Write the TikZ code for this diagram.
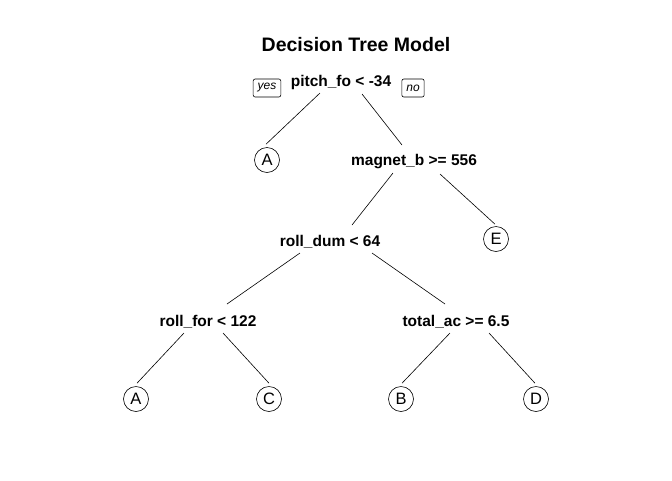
\documentclass[tikz,border=0pt]{standalone}
\usepackage{fontspec}
\setmainfont{Liberation Sans}
\usetikzlibrary{calc}
\begin{document}
\begin{tikzpicture}[x=1pt,y=-1pt,
  split/.style={font=\fontsize{15.5}{17}\selectfont\bfseries, inner sep=1pt},
  leaf/.style={draw, circle, minimum size=25pt, inner sep=0pt, line width=0.6pt, font=\fontsize{16.5}{18}\selectfont},
  tag/.style={draw, rounded corners=2pt, line width=0.6pt, font=\fontsize{12}{14}\selectfont\itshape, inner xsep=4.5pt, inner ysep=2.5pt, minimum height=18pt},
  branch/.style={line width=0.6pt}]
\useasboundingbox (0,0) rectangle (672,480);
\node[font=\fontsize{19.5}{22}\selectfont\bfseries] (title) at (356,45) {Decision Tree Model};
\node[split] (root) at (341,82) {pitch\_fo < -34};
\node[tag] (yes) at (267,88) {yes};
\node[tag] (no) at (413,88) {no};
\node[leaf] (A1) at (267,160) {A};
\node[split] (magnet) at (414,162) {magnet\_b >= 556};
\node[leaf] (E) at (496,239) {E};
\node[split] (rolldum) at (330,242) {roll\_dum < 64};
\node[split] (rollfor) at (208,322) {roll\_for < 122};
\node[split] (totalac) at (456,322) {total\_ac >= 6.5};
\node[leaf] (A2) at (136,399) {A};
\node[leaf] (C) at (269,399) {C};
\node[leaf] (B) at (401,399) {B};
\node[leaf] (D) at (536,399) {D};
\draw[branch] ($(root)+(-21,11)$) -- ($(A1.north)+(-1,-3)$);
\draw[branch] ($(root)+(21,12)$) -- ($(magnet)+(-12,-17)$);
\draw[branch] ($(magnet)+(-21,11)$) -- ($(rolldum)+(22,-17)$);
\draw[branch] ($(magnet)+(26,12)$) -- ($(E.north)+(-1,-2)$);
\draw[branch] ($(rolldum)+(-30,11)$) -- ($(rollfor)+(19,-18)$);
\draw[branch] ($(rolldum)+(42,11)$) -- ($(totalac)+(-11,-18)$);
\draw[branch] ($(rollfor)+(-24,11)$) -- ($(A2.north)+(1,-3)$);
\draw[branch] ($(rollfor)+(15,11)$) -- ($(C.north)+(0,-3)$);
\draw[branch] ($(totalac)+(-6,11)$) -- ($(B.north)+(1,-3)$);
\draw[branch] ($(totalac)+(33,11)$) -- ($(D.north)+(-1,-3)$);
\end{tikzpicture}
\end{document}
